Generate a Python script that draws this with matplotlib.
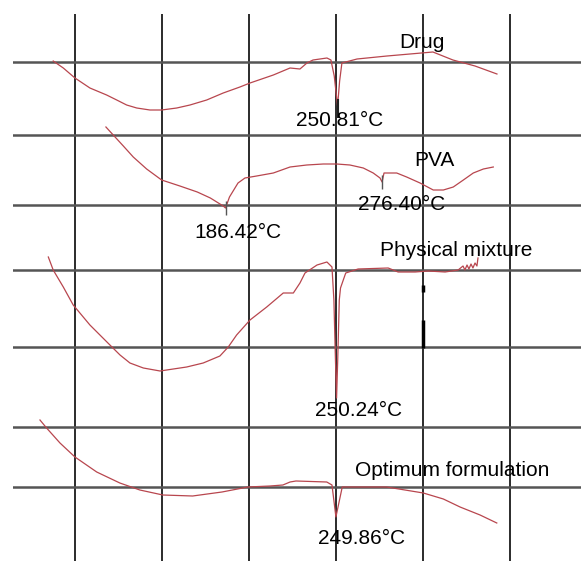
import matplotlib.pyplot as plt

plt.rcParams['font.family'] = ['Liberation Sans', 'DejaVu Sans']

# temperature (°C) and heat flow (a.u., stacked)
drug_t = [87.4, 93.2, 99.9, 108.5, 118.1, 123.9, 129.6, 135.4, 143.0, 149.7, 158.4, 166.0,
          175.6, 185.1, 194.7, 200.5, 213.9, 223.5, 229.2, 233.2, 236.7, 244.7, 247.0, 248.9,
          250.81, 252.0, 253.3, 262.0, 279.2, 292.4, 305.6, 317.1, 329.8, 342.4]
drug_hf = [500, 493, 483, 473, 466, 461, 456, 453, 451, 451, 453, 456,
           461, 468, 474, 478, 486, 493, 492, 498, 501, 503, 501, 485,
           455, 480, 498, 502, 505, 507, 509, 501, 495, 487]

pva_t = [117.7, 121.9, 127.7, 133.4, 141.1, 149.7, 160.2, 170.2, 177.7, 185.1, 186.42, 188.7,
         193.6, 197.6, 204.3, 213.9, 223.5, 233.1, 242.6, 250.3, 257.9, 265.6, 271.3, 275.2,
         276.40, 277.5, 279.0, 284.8, 290.5, 298.2, 305.8, 311.6, 317.3, 323.1, 328.8, 334.6,
         340.3]
pva_hf = [434, 426, 415, 404, 392, 381, 375, 369, 363, 355, 353, 364,
          378, 383, 385, 388, 394, 396, 397, 397, 396, 393, 388, 383,
          379, 388, 388, 388, 384, 378, 371, 371, 374, 381, 388, 392,
          394]

mix_t = [84.6, 87.4, 93.2, 98.9, 108.5, 120.0, 125.8, 131.5, 139.2, 148.8, 156.4, 164.1,
         173.6, 183.2, 188.0, 192.8, 200.5, 210.1, 219.6, 225.4, 229.2, 232.1, 239.0, 244.7,
         247.6, 248.7, 249.6, 250.24, 250.9, 251.8, 252.5, 255.5, 262.6, 279.9, 285.6, 295.4,
         302.9, 312.6, 320.1, 322.9, 324.0, 325.2, 326.3, 327.5, 328.6, 329.8, 330.9, 331.5]
mix_hf = [304, 291, 274, 256, 236, 216, 206, 198, 193, 190, 192, 194,
          198, 205, 214, 226, 241, 254, 268, 268, 278, 288, 296, 299,
          294, 261, 201, 163, 201, 261, 273, 288, 292, 293, 289, 289,
          290, 289, 291, 295, 291, 296, 292, 297, 293, 298, 295, 303]

opt_t = [79.8, 83.6, 91.3, 99.9, 112.4, 125.7, 137.2, 150.4, 167.5, 184.4, 199.3, 212.0,
         219.4, 223.5, 226.9, 244.6, 247.6, 249.86, 253.5, 279.0, 300.1, 311.6, 321.2, 332.7,
         342.3]
opt_hf = [141, 133, 118, 104, 89, 78, 71, 66, 65, 69, 74, 75,
          76, 79, 80, 79, 76, 44, 74, 74, 68, 62, 54, 46,
          38]

grid_t = [100, 150, 200, 250, 300, 350]
grid_hf = [499, 426, 356, 291, 214, 134, 74]

# labels: (text, temperature, heat flow)
labels = [
    ('Drug', 299.3, 519),
    ('250.81°C', 252.2, 440),
    ('PVA', 306.2, 401),
    ('186.42°C', 193.6, 328),
    ('276.40°C', 287.8, 356),
    ('Physical mixture', 318.9, 311),
    ('250.24°C', 263.1, 150),
    ('Optimum formulation', 316.6, 90),
    ('249.86°C', 264.8, 23),
]

fig = plt.figure(figsize=(5.81, 5.61), dpi=100)
ax = fig.add_axes([13 / 581, 0, 568 / 581, 547 / 561])
ax.set_xlim(64.3, 390.7)
ax.set_ylim(0, 547)

ax.set_xticks(grid_t)
ax.set_yticks(grid_hf)
ax.tick_params(length=0, labelbottom=False, labelleft=False)
ax.xaxis.grid(True, color='#1a1a1a', lw=1.3)
ax.yaxis.grid(True, color='#555555', lw=1.8)
ax.set_axisbelow(True)
for s in ax.spines.values():
    s.set_visible(False)

curve_col = '#b8464e'
for t, hf in [(drug_t, drug_hf), (pva_t, pva_hf), (mix_t, mix_hf), (opt_t, opt_hf)]:
    ax.plot(t, hf, color=curve_col, lw=0.9)

# peak pick marks
ax.vlines(250.81, 443, 462, color='#222222', lw=1.5)
ax.plot([186.42, 276.40], [353, 379], ls='none', marker='|', ms=10, color='#555555', mew=1)
ax.vlines([300, 300], [269, 213], [276, 241], color='black', lw=2.5)

for txt, x, y in labels:
    ax.text(x, y, txt, fontsize=15, ha='center', va='center')

fig.savefig('out.png', dpi=100)
